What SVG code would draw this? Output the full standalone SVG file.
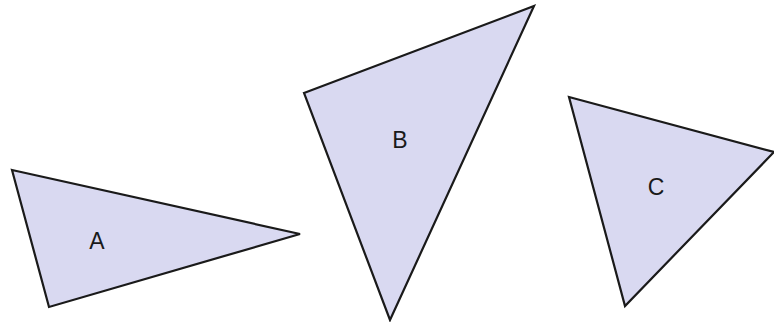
<svg xmlns="http://www.w3.org/2000/svg" width="774" height="322" viewBox="0 0 774 322">
<style>
.tri{fill:#d9d9f1;stroke:#1a1a1a;stroke-width:2.2;stroke-linejoin:miter}
.lbl{font-family:"Liberation Sans",Arial,sans-serif;font-size:23px;fill:#1a1a1a;text-anchor:middle}
</style>
<rect width="774" height="322" fill="#ffffff"/>
<g id="A"><polygon class="tri" points="12,170 300,234 49,307"/><text class="lbl" x="97" y="249">A</text></g>
<g id="B"><polygon class="tri" points="304,93 534,6 390,320"/><text class="lbl" x="400" y="148">B</text></g>
<g id="C"><polygon class="tri" points="569,97 774,152 625,306"/><text class="lbl" x="656" y="195">C</text></g>
<g id="connectors"></g>
</svg>
